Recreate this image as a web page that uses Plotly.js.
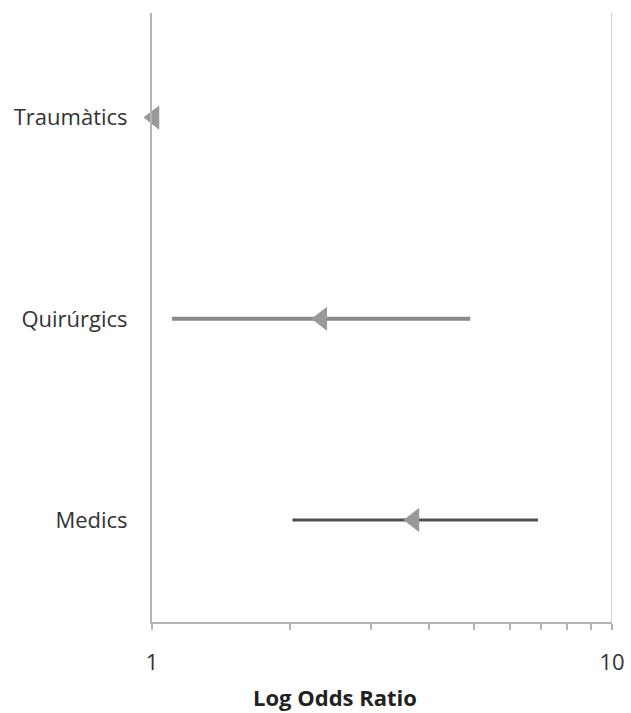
<!DOCTYPE html>
<html>
<head>
<meta charset="utf-8">
<script src="https://cdn.plot.ly/plotly-3.0.1.min.js"></script>
<style>html,body{margin:0;padding:0;background:#fff}#chart{width:631px;height:713px}</style>
</head>
<body>
<div id="chart"></div>
<script>
const categories = ['Medics', 'Quirúrgics', 'Traumàtics'];
const oddsRatio = [3.71, 2.34, 1.01];
const lowerCI = [2.02, 1.105, 1.0];
const upperCI = [6.9, 4.92, 1.03];
const lineColors = ['#4d4d4d', '#8a8a8a', '#8a8a8a'];
const lineWidths = [3, 4, 4];
const xTickVals = [1, 2, 3, 4, 5, 6, 7, 8, 9, 10];
const xTickText = ['1', '', '', '', '', '', '', '', '', '10'];
const yPos = categories.map((c, i) => i);

const traces = [];
categories.forEach((c, i) => {
  traces.push({
    type: 'scatter', mode: 'lines',
    x: [lowerCI[i], upperCI[i]], y: [yPos[i], yPos[i]],
    line: {color: lineColors[i], width: lineWidths[i]},
    hoverinfo: 'skip', showlegend: false, cliponaxis: false
  });
});
traces.push({
  type: 'scatter', mode: 'markers',
  x: oddsRatio, y: yPos,
  marker: {symbol: 'triangle-left', size: 21, color: '#999999'},
  showlegend: false, cliponaxis: false
});

const font = '"Open Sans", sans-serif';
const layout = {
  width: 631, height: 713,
  margin: {l: 152, r: 19, t: 13, b: 91},
  paper_bgcolor: '#fff', plot_bgcolor: '#fff',
  showlegend: false,
  xaxis: {
    type: 'log', range: [0, 1],
    tickvals: xTickVals, ticktext: xTickText,
    ticks: 'outside', ticklen: 6, tickwidth: 2, tickcolor: '#b3b3b3',
    showgrid: false, zeroline: false,
    showline: true, linecolor: '#b3b3b3', linewidth: 2,
    tickfont: {family: font, size: 22, color: '#333'},
    ticklabelstandoff: 14
  },
  yaxis: {
    range: [-0.507, 2.52],
    tickvals: yPos, ticktext: categories,
    ticks: 'outside', ticklen: 18, tickcolor: 'rgba(0,0,0,0)',
    showgrid: false, zeroline: false,
    showline: true, linecolor: '#b3b3b3', linewidth: 2,
    tickfont: {family: font, size: 22, color: '#333'}
  },
  shapes: [{
    type: 'line', xref: 'x', yref: 'paper', x0: 10, x1: 10, y0: 0, y1: 1,
    line: {color: '#d0d0d0', width: 2}
  }],
  annotations: [{
    text: '<b>Log Odds Ratio</b>', xref: 'paper', yref: 'paper',
    x: (335 - 152) / 460, y: 0, yshift: -75, showarrow: false,
    xanchor: 'center', yanchor: 'middle',
    font: {family: font, size: 22, color: '#222'}
  }]
};
Plotly.newPlot('chart', traces, layout, {displayModeBar: false, staticPlot: true});
</script>
</body>
</html>
